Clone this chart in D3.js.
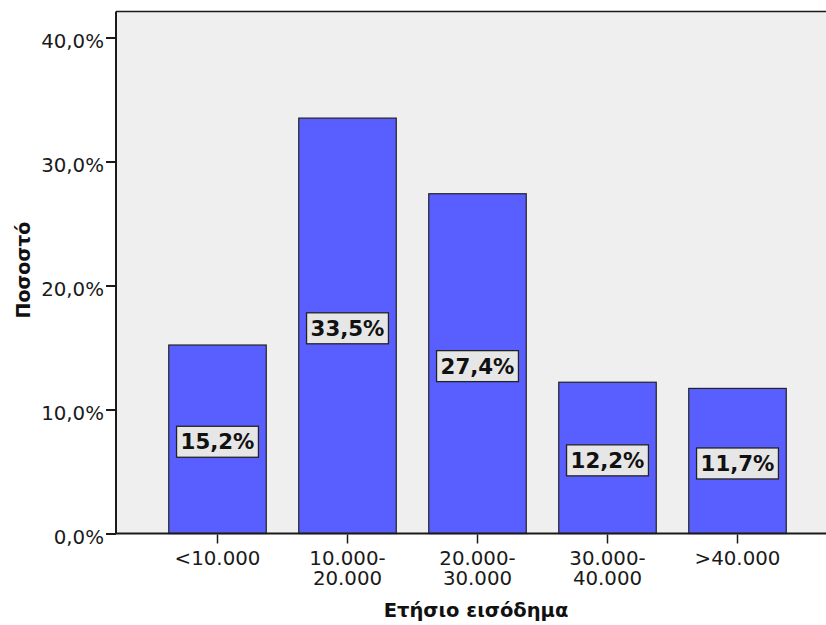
<!DOCTYPE html>
<html>
<head>
<meta charset="utf-8">
<script src="https://cdn.jsdelivr.net/npm/d3@7/dist/d3.min.js"></script>
<style>
  html, body { margin: 0; padding: 0; background: #fff; }
  svg { display: block; }
</style>
</head>
<body>
<svg id="chart" width="826" height="625"></svg>
<script>
// Income brackets and share of respondents in each (%)
const categories = [["<10.000"], ["10.000-", "20.000"], ["20.000-", "30.000"], ["30.000-", "40.000"], [">40.000"]];
const values = [15.2, 33.5, 27.4, 12.2, 11.7];
const yTicks = [0, 10, 20, 30, 40];
const xTitle = "Ετήσιο εισόδημα";
const yTitle = "Ποσοστό";

const FONT = "DejaVu Sans, Verdana, sans-serif";
const fmt = v => v.toFixed(1).replace(".", ",") + "%";

const svg = d3.select("#chart").attr("font-family", FONT);
const plot = { left: 116, top: 11.5, right: 830, bottom: 533.5 };

const x = d3.scaleBand()
  .domain(d3.range(values.length))
  .range([152.5, 802.5])
  .paddingInner(0.25)
  .paddingOuter(0.125);

const y = d3.scaleLinear()
  .domain([0, 40])
  .range([plot.bottom, 37.5]);

// plot background
svg.append("rect")
  .attr("x", plot.left).attr("y", plot.top)
  .attr("width", plot.right - plot.left).attr("height", plot.bottom - plot.top)
  .attr("fill", "#efefef");

// top frame line
svg.append("line")
  .attr("x1", plot.left).attr("x2", plot.right)
  .attr("y1", plot.top).attr("y2", plot.top)
  .attr("stroke", "#1a1a1a").attr("stroke-width", 1.5);

// bars
svg.append("g").selectAll("rect")
  .data(values)
  .join("rect")
  .attr("x", (d, i) => x(i))
  .attr("y", d => y(d))
  .attr("width", x.bandwidth())
  .attr("height", d => y(0) - y(d))
  .attr("fill", "#595fff")
  .attr("stroke", "#222")
  .attr("stroke-width", 1.2);

// y axis
const yAxis = svg.append("g")
  .attr("transform", `translate(${plot.left},0)`)
  .call(d3.axisLeft(y).tickValues(yTicks).tickFormat(fmt).tickSize(10).tickPadding(2))
  .attr("font-family", FONT)
  .attr("font-size", 19.8);
yAxis.select(".domain").attr("stroke", "#1a1a1a").attr("stroke-width", 2)
  .attr("d", `M0,${plot.top}V${plot.bottom}`);
yAxis.selectAll(".tick line").attr("stroke", "#1a1a1a").attr("stroke-width", 2);
yAxis.selectAll(".tick text")
  .attr("fill", "#1a1a1a")
  .attr("dy", "0.5em");

// x axis
const xAxis = svg.append("g")
  .attr("transform", `translate(0,${plot.bottom})`)
  .call(d3.axisBottom(x).tickSize(10).tickFormat(() => ""))
  .attr("font-family", FONT)
  .attr("font-size", 19.8);
xAxis.select(".domain").attr("stroke", "#1a1a1a").attr("stroke-width", 2)
  .attr("d", `M${plot.left},0H${plot.right}`);
xAxis.selectAll(".tick line").attr("stroke", "#1a1a1a").attr("stroke-width", 1.5)
  .attr("y1", 1);
xAxis.selectAll(".tick text").remove();
xAxis.selectAll(".tick").each(function(d) {
  const t = d3.select(this).append("text")
    .attr("text-anchor", "middle")
    .attr("fill", "#1a1a1a");
  categories[d].forEach((line, k) => {
    t.append("tspan").attr("x", 0).attr("y", 31.5 + k * 20).text(line);
  });
});

// value labels in boxes at bar mid-height
const labels = svg.append("g").selectAll("g")
  .data(values)
  .join("g")
  .attr("transform", (d, i) => `translate(${x(i) + x.bandwidth() / 2},${(y(d) + y(0)) / 2 + 2.5})`);
labels.append("text")
  .attr("text-anchor", "middle")
  .attr("dy", "0.36em")
  .attr("font-size", 21.3)
  .attr("font-weight", "bold")
  .attr("fill", "#111")
  .text(fmt);
labels.each(function() {
  const g = d3.select(this);
  const bb = g.select("text").node().getBBox();
  g.insert("rect", "text")
    .attr("x", bb.x - 4)
    .attr("y", -15.5)
    .attr("width", bb.width + 8)
    .attr("height", 31)
    .attr("fill", "#e6e6e6")
    .attr("stroke", "#222")
    .attr("stroke-width", 1.3);
});

// axis titles
svg.append("text")
  .attr("x", 476).attr("y", 617)
  .attr("text-anchor", "middle")
  .attr("font-size", 19.5)
  .attr("font-weight", "bold")
  .attr("fill", "#111")
  .text(xTitle);

svg.append("text")
  .attr("transform", "translate(30,270) rotate(-90)")
  .attr("text-anchor", "middle")
  .attr("font-size", 19)
  .attr("font-weight", "bold")
  .attr("fill", "#111")
  .text(yTitle);
</script>
</body>
</html>
